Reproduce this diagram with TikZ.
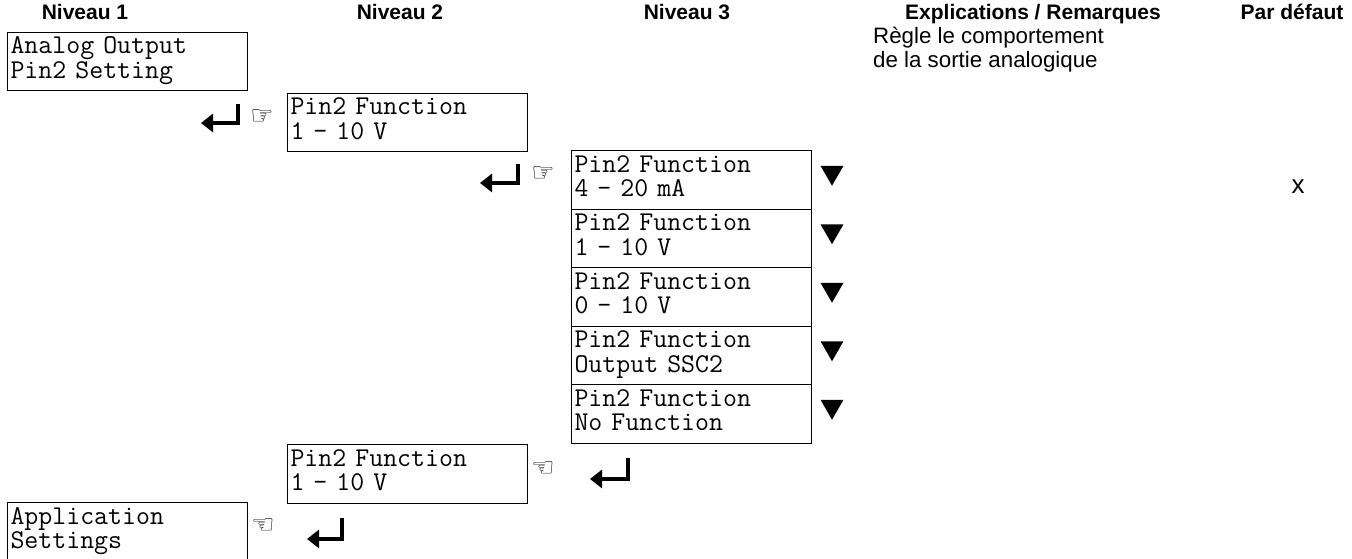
\documentclass[tikz,border=0pt]{standalone}
\usepackage{fontspec}
\setmainfont{Liberation Sans}
\newfontfamily\symfont{DejaVu Sans}
\usetikzlibrary{arrows.meta}
\tikzset{
  lcd/.style={draw, line width=1pt, anchor=north west,
    minimum width=240pt, minimum height=58.5pt,
    text width=234pt, inner xsep=3pt, inner ysep=0pt,
    text height=21.5pt, text depth=37pt, align=left,
    font=\fontsize{27.1}{24.5}\selectfont\ttfamily},
  head/.style={anchor=base, inner sep=0pt, font=\fontsize{21}{24}\selectfont\bfseries},
  body/.style={anchor=base west, inner sep=0pt, font=\fontsize{22.3}{25}\selectfont},
  hand/.style={inner sep=0pt, font=\fontsize{26}{26}\selectfont\symfont},
  enterkey/.style={line width=3.5pt, -{Triangle[length=12pt,width=18pt]}},
  downtri/.pic={\fill (-11.5,-10) -- (11.5,-10) -- (0,10) -- cycle;}
}
\begin{document}
\begin{tikzpicture}[x=1pt,y=-1pt]
\useasboundingbox (0,0) rectangle (1352,559);
% headers
\node[head] (hd1) at (85,20) {Niveau 1};
\node[head] (hd2) at (400,20) {Niveau 2};
\node[head] (hd3) at (687,20) {Niveau 3};
\node[head] (hd4) at (1033,20) {Explications / Remarques};
\node[head] (hd5) at (1292,20) {Par défaut};
\node[body] (ex1) at (873,44) {Règle le comportement};
\node[body] (ex2) at (873,68) {de la sortie analogique};
\node[body, anchor=center, font=\fontsize{26}{28}\selectfont] (dflt) at (1298,187) {x};
% boxes
\node[lcd] (n1a) at (7,32) {Analog Output\\Pin2 Setting};
\node[lcd] (n2a) at (287,93) {Pin2 Function\\1 - 10 V};
\node[lcd] (n3a) at (571,150) {Pin2 Function\\4 - 20 mA};
\node[lcd] (n3b) at (571,208.5) {Pin2 Function\\1 - 10 V};
\node[lcd] (n3c) at (571,267) {Pin2 Function\\0 - 10 V};
\node[lcd] (n3d) at (571,325.5) {Pin2 Function\\Output SSC2};
\node[lcd] (n3e) at (571,384) {Pin2 Function\\No Function};
\node[lcd] (n2b) at (287,444) {Pin2 Function\\1 - 10 V};
\node[lcd] (n1b) at (7,502) {Application\\Settings};
% hands
\node[hand] (h1) at (262,117) {☞};
\node[hand] (h2) at (543,174) {☞};
\node[hand] (h3) at (543,469) {☜};
\node[hand] (h4) at (263,526) {☜};
% enter keys
\coordinate (e1t) at (238,104); \coordinate (e1c) at (238,123); \coordinate (e1e) at (201,123);
\coordinate (e2t) at (518,164); \coordinate (e2c) at (518,183); \coordinate (e2e) at (480,183);
\coordinate (e3t) at (628,458); \coordinate (e3c) at (628,479); \coordinate (e3e) at (590,479);
\coordinate (e4t) at (342,518); \coordinate (e4c) at (342,539); \coordinate (e4e) at (307,539);
\draw[enterkey] (e1t) -- (e1c) -- (e1e);
\draw[enterkey] (e2t) -- (e2c) -- (e2e);
\draw[enterkey] (e3t) -- (e3c) -- (e3e);
\draw[enterkey] (e4t) -- (e4c) -- (e4e);
% scroll triangles
\pic at ([shift={(20,-4)}]n3a.east) {downtri};
\pic at ([shift={(20,-4)}]n3b.east) {downtri};
\pic at ([shift={(20,-4)}]n3c.east) {downtri};
\pic at ([shift={(20,-4)}]n3d.east) {downtri};
\pic at ([shift={(20,-4)}]n3e.east) {downtri};
\end{tikzpicture}
\end{document}
